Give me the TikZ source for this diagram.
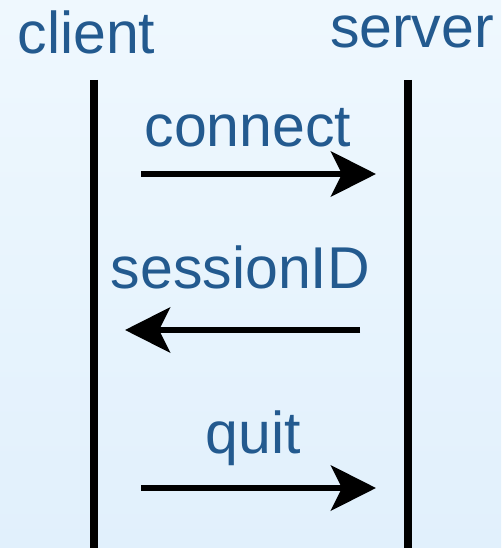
\documentclass[tikz,border=0pt]{standalone}
\usepackage{fontspec}
\setmainfont{Liberation Sans}
\usetikzlibrary{arrows.meta}
\definecolor{labelblue}{HTML}{235A8F}
\definecolor{bgtop}{HTML}{EFF8FE}
\definecolor{bgbottom}{HTML}{E1F0FC}
\begin{document}
\begin{tikzpicture}[x=1pt,y=-1pt,
  lbl/.style={anchor=base,inner sep=0pt,text=labelblue,font=\fontsize{59}{60}\selectfont},
  lifeline/.style={line width=8pt,black},
  msg/.style={line width=6.5pt,black,-{Stealth[length=45pt,width=45pt,inset=11pt]}}]
  % background
  \shade[top color=bgtop,bottom color=bgbottom] (0,0) rectangle (501,548);
  \useasboundingbox (0,0) rectangle (501,548);

  % participants
  \node[lbl] (client) at (86.5,54) {client};
  \node[lbl] (server) at (412,48) {server};

  % lifelines
  \coordinate (cTop) at (94,80);
  \coordinate (cBot) at (94,548);
  \coordinate (sTop) at (408,80);
  \coordinate (sBot) at (408,548);
  \draw[lifeline] (cTop) -- (cBot);
  \draw[lifeline] (sTop) -- (sBot);

  % messages
  \coordinate (m1a) at (141,174);
  \coordinate (m1b) at (376,174);
  \coordinate (m2a) at (360,330);
  \coordinate (m2b) at (125,330);
  \coordinate (m3a) at (141,488);
  \coordinate (m3b) at (376,488);
  \draw[msg] (m1a) -- (m1b);
  \draw[msg] (m2a) -- (m2b);
  \draw[msg] (m3a) -- (m3b);

  \node[lbl] (connect) at (248,147) {connect};
  \node[lbl] (session) at (240.5,288) {sessionID};
  \node[lbl] (quit) at (253.5,453) {quit};
\end{tikzpicture}
\end{document}
